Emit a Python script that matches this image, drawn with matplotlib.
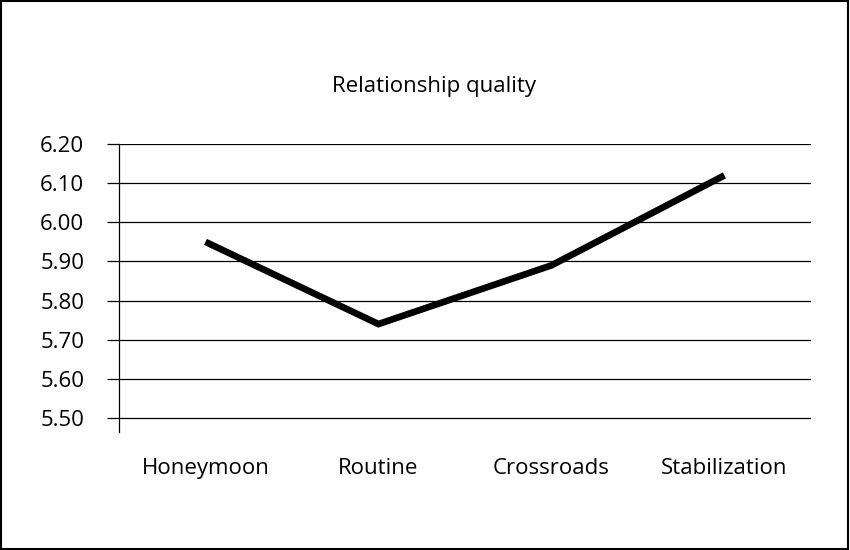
import matplotlib.pyplot as plt
from matplotlib.patches import Rectangle

stages = ['Honeymoon', 'Routine', 'Crossroads', 'Stabilization']
quality = [5.95, 5.74, 5.89, 6.12]
y_ticks = [5.50, 5.60, 5.70, 5.80, 5.90, 6.00, 6.10, 6.20]

plt.rcParams['font.family'] = ['Open Sans', 'DejaVu Sans']

fig = plt.figure(figsize=(8.5, 5.5), dpi=100)
ax = fig.add_axes([0.140, 0.2145, 0.814, 0.5235])

ax.plot(range(len(stages)), quality, color='black', linewidth=4.8,
        solid_capstyle='butt', solid_joinstyle='miter')

ax.set_xlim(-0.5, len(stages) - 0.5)
ax.set_ylim(5.464, 6.20)
ax.set_yticks(y_ticks)
ax.set_yticklabels([f'{v:.2f}' for v in y_ticks], fontsize=16)
ax.set_xticks(range(len(stages)))
ax.set_xticklabels(stages, fontsize=16)

ax.grid(axis='y', color='black', linewidth=0.9)
ax.set_axisbelow(True)
ax.tick_params(axis='y', length=9, width=0.9, pad=16)
ax.tick_params(axis='x', length=0, pad=19)

for side in ['top', 'right', 'bottom']:
    ax.spines[side].set_visible(False)
ax.spines['left'].set_linewidth(0.9)

fig.text(0.511, 0.843, 'Relationship quality', ha='center', va='center', fontsize=16)

fig.patches.append(Rectangle((0.001, 0.001), 0.997, 0.997, transform=fig.transFigure,
                             fill=False, edgecolor='black', linewidth=1.5))

fig.savefig('out.png', dpi=100)
